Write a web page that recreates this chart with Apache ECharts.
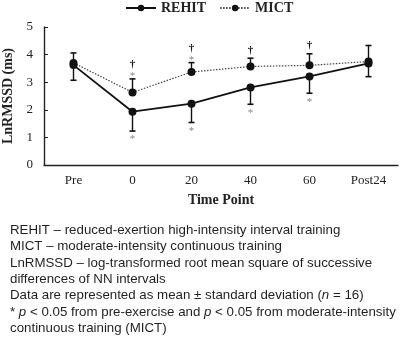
<!DOCTYPE html>
<html><head><meta charset="utf-8">
<script src="https://cdn.jsdelivr.net/npm/echarts@6/dist/echarts.min.js"></script>
<style>html,body{margin:0;padding:0;background:#fff}#c{width:402px;height:337px}</style>
</head><body><div id="c"></div>
<script>
const categories = ['Pre', '0', '20', '40', '60', 'Post24'];
const rehitMean = [3.62, 1.93, 2.22, 2.81, 3.21, 3.68];
const rehitSD = [0.55, 0.70, 0.68, 0.61, 0.61, 0.48];
const mictMean = [3.70, 2.63, 3.37, 3.57, 3.61, 3.75];
const mictSD = [0.36, 0.49, 0.34, 0.30, 0.42, 0.58];
const mictDagger = [0, 1, 1, 1, 1, 0];
const mictStar = [0, 1, 1, 0, 0, 0];
const rehitStar = [0, 1, 1, 1, 1, 0];
const footnotes = [
  [['REHIT – reduced-exertion high-intensity interval training', 'n']],
  [['MICT – moderate-intensity continuous training', 'n']],
  [['LnRMSSD – log-transformed root mean square of successive', 'n']],
  [['differences of NN intervals', 'n']],
  [['Data are represented as mean ± standard deviation (', 'n'], ['n', 'i'], [' = 16)', 'n']],
  [['* ', 'n'], ['p', 'i'], [' < 0.05 from pre-exercise and ', 'n'], ['p', 'i'], [' < 0.05 from moderate-intensity', 'n']],
  [['continuous training (MICT)', 'n']]
];

const serif = '"Liberation Serif", "Times New Roman", serif';
const sans = '"Liberation Sans", Arial, sans-serif';

const chart = echarts.init(document.getElementById('c'));

function errData(mean, sd, dir, dag, starTop, starBot) {
  return mean.map((m, i) => [i, m, m + dir * sd[i], dag ? dag[i] : 0, starTop ? starTop[i] : 0, starBot ? starBot[i] : 0]);
}

function renderErr(dir) {
  return function (params, api) {
    const x = api.value(0), m = api.value(1), e = api.value(2);
    const p0 = api.coord([x, m]);
    const p1 = api.coord([x, e]);
    const children = [
      { type: 'line', shape: { x1: p0[0], y1: p0[1], x2: p1[0], y2: p1[1] }, style: { stroke: '#111', lineWidth: 1.4 } },
      { type: 'line', shape: { x1: p1[0] - 3, y1: p1[1], x2: p1[0] + 3, y2: p1[1] }, style: { stroke: '#111', lineWidth: 1.6 } }
    ];
    const dag = api.value(3), st = api.value(4), sb = api.value(5);
    if (dir < 0) {
      if (sb) children.push({ type: 'text', style: { text: '*', x: p1[0], y: p1[1] + 3, align: 'center', verticalAlign: 'top', font: '11px ' + serif, fill: '#888' } });
    } else {
      let off = 3;
      if (st) { children.push({ type: 'text', style: { text: '*', x: p1[0], y: p1[1] - 2.5, align: 'center', verticalAlign: 'middle', font: '11px ' + serif, fill: '#888' } }); off = 9; }
      if (dag) children.push({ type: 'text', style: { text: '†', x: p1[0], y: p1[1] - off, align: 'center', verticalAlign: 'bottom', font: 'bold 11px ' + serif, fill: '#111' } });
    }
    return { type: 'group', children };
  };
}

const graphics = footnotes.map((parts, li) => {
  let txt = parts.map(p => '{' + p[1] + '|' + p[0].replace(/[{}|]/g, '') + '}').join('');
  return {
    type: 'text', left: 10, top: 224 + li * 16.3,
    style: {
      text: txt,
      rich: {
        n: { font: '13.3px ' + sans, fill: '#231f20' },
        i: { font: 'italic 13.3px ' + sans, fill: '#231f20' }
      }
    }
  };
});

chart.setOption({
  animation: false,
  backgroundColor: '#fff',
  textStyle: { fontFamily: serif },
  grid: { left: 44, right: 4, top: 27, bottom: 172, outerBoundsMode: 'none', containLabel: false },
  legend: {
    top: 1, left: 125, padding: 0, itemWidth: 30, itemHeight: 8, itemGap: 13,
    textStyle: { fontFamily: serif, fontWeight: 'bold', fontSize: 14, color: '#222' },
    data: ['REHIT', 'MICT']
  },
  xAxis: {
    type: 'category', data: categories, boundaryGap: true,
    name: 'Time Point', nameLocation: 'middle', nameGap: 28,
    nameTextStyle: { fontFamily: serif, fontWeight: 'bold', fontSize: 14, color: '#222' },
    axisLine: { lineStyle: { color: '#222', width: 1.4 } },
    axisTick: { inside: true, alignWithLabel: true, length: 4, lineStyle: { color: '#222' } },
    axisLabel: { fontFamily: serif, fontSize: 13, color: '#222', margin: 9 },
    splitLine: { show: false }
  },
  yAxis: {
    type: 'value', min: 0, max: 5, interval: 1,
    name: 'LnRMSSD (ms)', nameLocation: 'middle', nameGap: 23,
    nameTextStyle: { fontFamily: serif, fontWeight: 'bold', fontSize: 14, color: '#222' },
    axisLine: { show: true, lineStyle: { color: '#222', width: 1.4 } },
    axisTick: { show: true, inside: true, length: 4, lineStyle: { color: '#222' } },
    axisLabel: { fontFamily: serif, fontSize: 13, color: '#222', margin: 11 },
    splitLine: { show: false }
  },
  series: [
    {
      name: 'REHIT', type: 'line', data: rehitMean, symbol: 'circle', symbolSize: 8,
      lineStyle: { color: '#111', width: 1.8 }, itemStyle: { color: '#111' }, z: 4
    },
    {
      name: 'MICT', type: 'line', data: mictMean, symbol: 'circle', symbolSize: 8,
      lineStyle: { color: '#444', width: 1.2, type: [1.5, 1.5] }, itemStyle: { color: '#111' }, z: 3
    },
    {
      type: 'custom', renderItem: renderErr(-1), data: errData(rehitMean, rehitSD, -1, null, null, rehitStar),
      encode: { x: 0, y: [1, 2] }, z: 2, silent: true
    },
    {
      type: 'custom', renderItem: renderErr(1), data: errData(mictMean, mictSD, 1, mictDagger, mictStar, null),
      encode: { x: 0, y: [1, 2] }, z: 2, silent: true
    }
  ],
  graphic: graphics
});
</script></body></html>
